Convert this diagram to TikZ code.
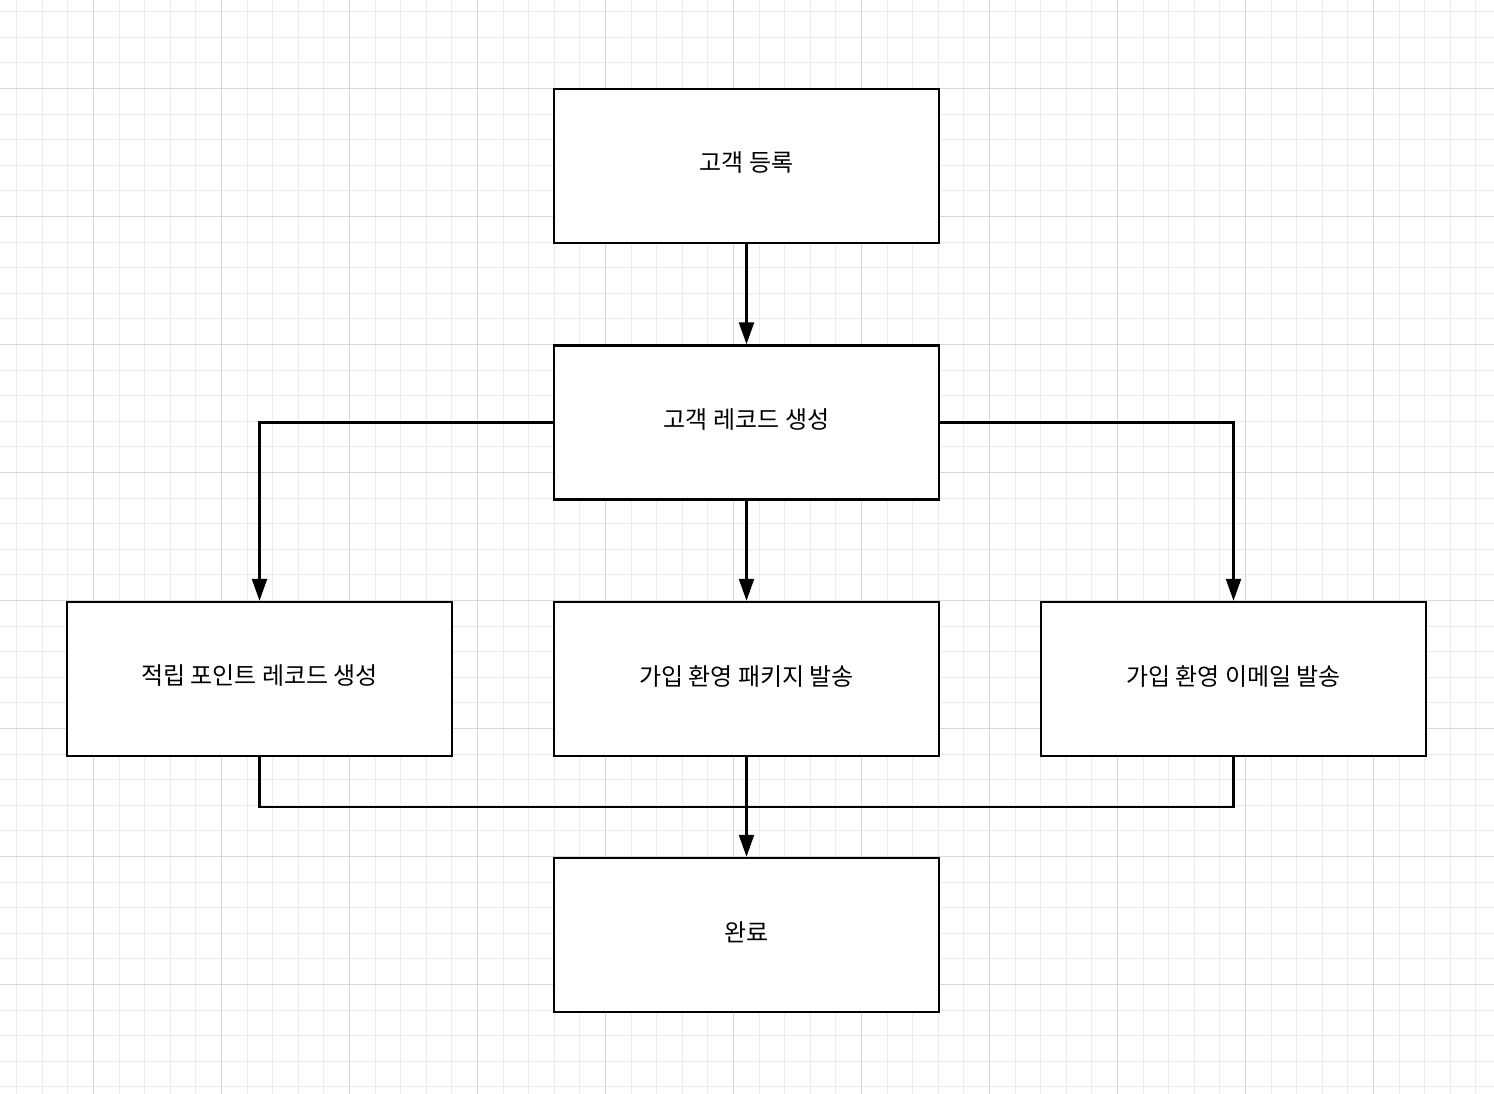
\documentclass[tikz,border=0pt]{standalone}
\usepackage{fontspec}
\newfontfamily\kr{Noto Sans CJK KR}
\usetikzlibrary{arrows.meta}
\begin{document}
\begin{tikzpicture}[x=1pt,y=-1pt,
  box/.style={draw=black, fill=white, line width=2.5pt, minimum width=385pt, minimum height=154pt, inner sep=0pt, font=\kr\fontsize{24}{28}\selectfont},
  lbl/.style={font=\kr\fontsize{24}{28}\selectfont, inner sep=0pt},
  conn/.style={line width=2.5pt, draw=black},
  arr/.style={conn, -{Triangle[length=22pt,width=15pt]}},
  minorgrid/.style={draw={rgb,255:red,235;green,235;blue,235}, line width=1pt},
  majorgrid/.style={draw={rgb,255:red,216;green,216;blue,216}, line width=1pt}]
\useasboundingbox (0,0) rectangle (1494,1094);
\fill[white] (0,0) rectangle (1494,1094);
\foreach \k in {-3,...,54} {\draw[minorgrid] ({93.5+25.6*\k},0) -- ({93.5+25.6*\k},1094);}
\foreach \k in {-3,...,39} {\draw[minorgrid] (0,{88.5+25.6*\k}) -- (1494,{88.5+25.6*\k});}
\foreach \k in {0,...,10} {\draw[majorgrid] ({93.5+128*\k},0) -- ({93.5+128*\k},1094);}
\foreach \k in {0,...,7} {\draw[majorgrid] (0,{88.5+128*\k}) -- (1494,{88.5+128*\k});}

\node[box] (reg) at (746.5,166) {};
\node[box] (rec) at (746.5,422.5) {};
\node[box] (pts) at (259.5,679) {};
\node[box] (pkg) at (746.5,679) {};
\node[box] (mail) at (1233.5,679) {};
\node[box] (done) at (746.5,935) {};
\node[lbl] (tReg) at ([yshift=3pt]reg.center) {고객 등록};
\node[lbl] (tRec) at ([yshift=3pt]rec.center) {고객 레코드 생성};
\node[lbl] (tPts) at ([yshift=3pt]pts.center) {적립 포인트 레코드 생성};
\node[lbl] (tPkg) at ([yshift=3pt]pkg.center) {가입 환영 패키지 발송};
\node[lbl] (tMail) at ([yshift=3pt]mail.center) {가입 환영 이메일 발송};
\node[lbl] (tDone) at ([yshift=3pt]done.center) {완료};
\coordinate (j) at (746.5,807);

\draw[arr] (reg) -- (rec);
\draw[arr] (rec.west) -| (pts.north);
\draw[arr] (rec) -- (pkg);
\draw[arr] (rec.east) -| (mail.north);
\draw[conn] (pts.south) |- (j);
\draw[conn] (mail.south) |- (j);
\draw[arr] (pkg) -- (done);
\end{tikzpicture}
\end{document}
